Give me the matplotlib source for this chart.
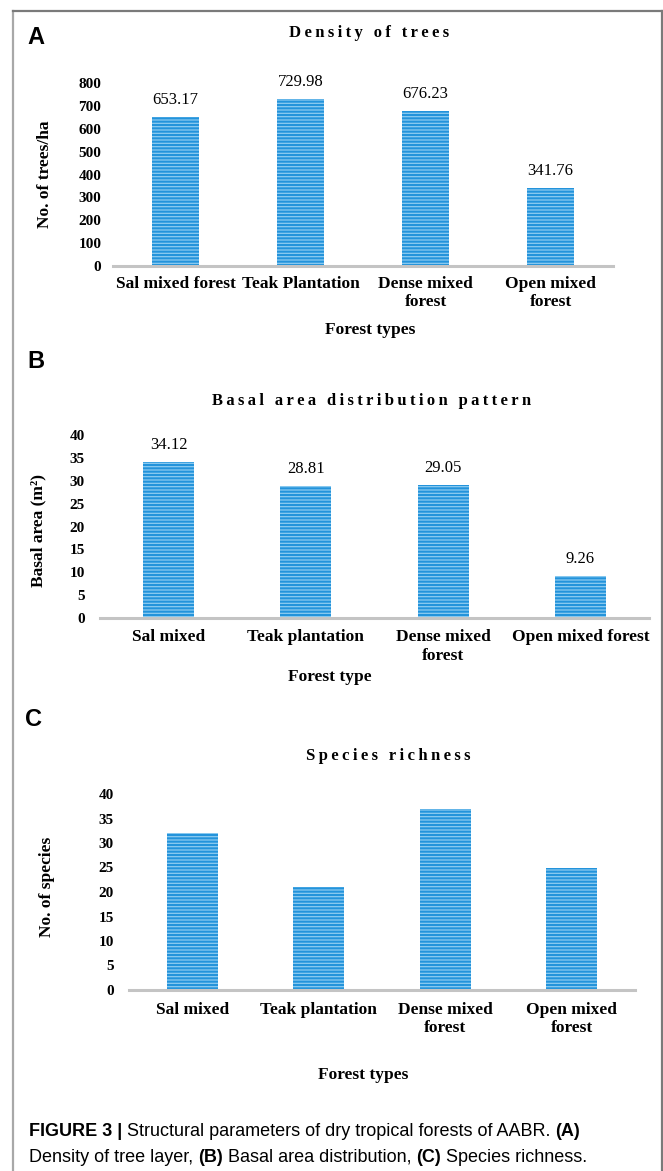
import matplotlib.pyplot as plt
from matplotlib.lines import Line2D

plt.rcParams['hatch.linewidth'] = 1.5
plt.rcParams['font.family'] = ['Liberation Serif', 'DejaVu Serif']

# data
cats_a = ['Sal mixed forest', 'Teak Plantation', 'Dense mixed\nforest', 'Open mixed\nforest']
density = [653.17, 729.98, 676.23, 341.76]

cats_b = ['Sal mixed', 'Teak plantation', 'Dense mixed\nforest', 'Open mixed forest']
basal = [34.12, 28.81, 29.05, 9.26]

cats_c = ['Sal mixed', 'Teak plantation', 'Dense mixed\nforest', 'Open mixed\nforest']
richness = [32, 21, 37, 25]

W, H = 663, 1171
fig = plt.figure(figsize=(W / 100, H / 100), dpi=100)

face = '#8ccbf0'
stripe = '#2393db'


def px_axes(left, right, top, bottom):
    return fig.add_axes([left / W, 1 - bottom / H, (right - left) / W, (bottom - top) / H])


def spaced(s):
    # letter-spaced titles: thin space between letters, wider gap between words
    thin = '\u2009'
    return (thin + ' ' + thin).join(thin.join(w) for w in s.split())


def panel(ax, cats, vals, ymax, step, ylabel, xlabel, ylab_xy, xlab_xy,
          width, ypad, xpad, labels=True):
    x = range(len(cats))
    bars = ax.bar(x, vals, width=width, color=face, edgecolor=stripe,
                  linewidth=0, hatch='-----')
    ax.set_xlim(-0.5, len(cats) - 0.5)
    ax.set_ylim(0, ymax)
    ax.set_yticks(range(0, ymax + 1, step))
    ax.set_xticks(list(x))
    ax.set_xticklabels(cats, fontsize=12.5, fontweight='bold')
    for t in ax.get_yticklabels():
        t.set_fontsize(11)
        t.set_fontweight('bold')
    ax.tick_params(axis='y', length=0, pad=ypad)
    ax.tick_params(axis='x', length=0, pad=xpad)
    for s in ['top', 'right', 'left']:
        ax.spines[s].set_visible(False)
    ax.spines['bottom'].set_color('#c4c4c4')
    ax.spines['bottom'].set_linewidth(2.2)
    ax.set_ylabel(ylabel, fontsize=12.5, fontweight='bold')
    ax.yaxis.set_label_coords(*ylab_xy)
    ax.set_xlabel(xlabel, fontsize=12.5, fontweight='bold', va='center')
    ax.xaxis.set_label_coords(*xlab_xy)
    if labels:
        ax.bar_label(bars, fmt='%.2f', padding=6.5, fontsize=12)
    return ax


ax_a = px_axes(113, 613, 83, 266)
panel(ax_a, cats_a, density, 800, 100, 'No. of trees/ha', 'Forest types',
      (-0.12, 0.5), (0.514, -0.35), 0.38, 8.3, 7)

ax_b = px_axes(100, 649, 435, 618)
panel(ax_b, cats_b, basal, 40, 5, 'Basal area (m²)', 'Forest type',
      (-0.0975, 0.48), (0.419, -0.322), 0.37, 10.8, 8)

ax_c = px_axes(129, 635, 794, 990)
panel(ax_c, cats_c, richness, 40, 5, 'No. of species', 'Forest types',
      (-0.146, 0.525), (0.462, -0.434), 0.40, 10.8, 8.6, labels=False)

# panel titles and letters
titles = [('Density of trees', 369, 33), ('Basal area distribution pattern', 372, 401),
          ('Species richness', 388, 756)]
for txt, tx, ty in titles:
    fig.text(tx / W, 1 - ty / H, spaced(txt), ha='center', va='center',
             fontsize=12, fontweight='bold')

for letter, lx, ly in [('A', 27, 37), ('B', 27, 361), ('C', 25, 719)]:
    fig.text(lx / W, 1 - ly / H, letter, ha='left', va='center', fontsize=17,
             fontweight='bold', family='Liberation Sans')

# frame
fig.add_artist(Line2D([12.5 / W, 12.5 / W], [0, 1 - 10.5 / H], color='#a8a8a8', lw=1.6))
fig.add_artist(Line2D([12.5 / W, 662 / W], [1 - 10.5 / H, 1 - 10.5 / H], color='#7a7a7a', lw=1.6))
fig.add_artist(Line2D([662 / W, 662 / W], [0, 1 - 10.5 / H], color='#7a7a7a', lw=1.6))

# caption with mixed weights
lines = [
    [('FIGURE 3 | ', 'bold'), ('Structural parameters of dry tropical forests of AABR. ', 'normal'),
     ('(A)', 'bold')],
    [('Density of tree layer, ', 'normal'), ('(B)', 'bold'), (' Basal area distribution, ', 'normal'),
     ('(C)', 'bold'), (' Species richness.', 'normal')],
]
renderer = fig.canvas.get_renderer()
for (parts, ly) in zip(lines, [1132, 1157]):
    xpos = 29
    for txt, wt in parts:
        t = fig.text(xpos / W, 1 - ly / H, txt, ha='left', va='center', fontsize=13,
                     fontweight=wt, family='Liberation Sans')
        bb = t.get_window_extent(renderer=renderer)
        xpos += bb.width

fig.savefig('out.png', dpi=100)
